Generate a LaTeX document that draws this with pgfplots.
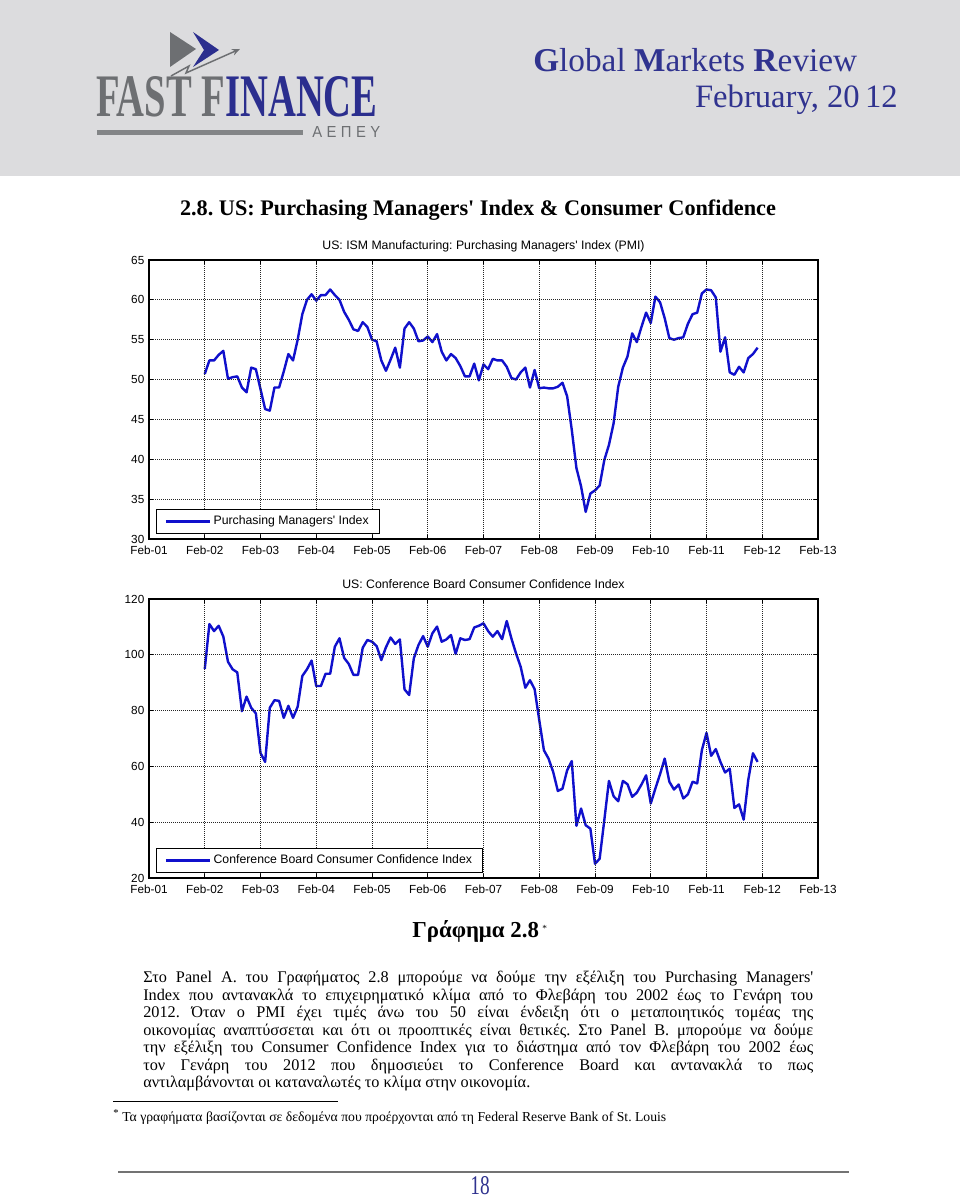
\documentclass[border=0pt]{standalone}
\usepackage{fontspec}
\setmainfont{Liberation Serif}
\setsansfont{Liberation Sans}
\usepackage{graphicx}
\usepackage{pgfplots}
\pgfplotsset{compat=1.18}
\usepackage{pgfplotstable}
\usetikzlibrary{arrows.meta}
\definecolor{hdrbg}{HTML}{DCDCDE}
\definecolor{logogray}{HTML}{6D6F72}
\definecolor{logoblue}{HTML}{2B2E8E}
\definecolor{hdrblue}{HTML}{30338F}
\definecolor{serblue}{HTML}{1010CC}

\pgfplotstableread{
m v
12 50.7
13 52.4
14 52.4
15 53.1
16 53.6
17 50.1
18 50.3
19 50.4
20 49.0
21 48.4
22 51.5
23 51.3
24 48.8
25 46.3
26 46.1
27 49.0
28 49.0
29 51.0
30 53.2
31 52.4
32 55.0
33 58.2
34 60.0
35 60.7
36 59.9
37 60.6
38 60.6
39 61.3
40 60.6
41 60.0
42 58.5
43 57.5
44 56.3
45 56.1
46 57.2
47 56.6
48 55.0
49 54.8
50 52.4
51 51.1
52 52.5
53 54.0
54 51.5
55 56.4
56 57.2
57 56.4
58 54.8
59 54.9
60 55.4
61 54.7
62 55.7
63 53.5
64 52.4
65 53.2
66 52.7
67 51.7
68 50.4
69 50.4
70 52.0
71 49.9
72 51.9
73 51.3
74 52.6
75 52.4
76 52.4
77 51.6
78 50.2
79 50.0
80 50.9
81 51.5
82 49.0
83 51.2
84 48.9
85 49.0
86 48.9
87 48.9
88 49.1
89 49.6
90 47.9
91 43.7
92 38.9
93 36.6
94 33.4
95 35.7
96 36.1
97 36.7
98 39.9
99 41.8
100 44.5
101 49.1
102 51.5
103 52.9
104 55.8
105 54.7
106 56.6
107 58.4
108 57.1
109 60.4
110 59.7
111 57.7
112 55.2
113 55.0
114 55.2
115 55.3
116 57.0
117 58.2
118 58.4
119 60.8
120 61.3
121 61.2
122 60.3
123 53.5
124 55.3
125 50.9
126 50.6
127 51.6
128 50.9
129 52.7
130 53.2
131 54.0
}\pmitable

\pgfplotstableread{
m v
12 94.9
13 111.0
14 108.5
15 110.4
16 106.5
17 97.5
18 94.8
19 93.7
20 79.8
21 85.0
22 81.0
23 79.0
24 64.8
25 61.6
26 81.0
27 83.7
28 83.5
29 77.4
30 81.7
31 77.4
32 81.4
33 92.4
34 94.8
35 97.9
36 88.8
37 88.8
38 93.2
39 93.2
40 102.9
41 105.9
42 98.9
43 96.7
44 92.8
45 92.8
46 102.5
47 105.3
48 104.7
49 103.1
50 98.1
51 102.7
52 106.2
53 103.9
54 105.5
55 87.6
56 85.6
57 98.7
58 103.5
59 106.7
60 102.9
61 107.7
62 110.1
63 104.7
64 105.5
65 107.1
66 100.3
67 105.9
68 105.3
69 105.6
70 109.8
71 110.4
72 111.3
73 108.5
74 106.5
75 108.5
76 105.6
77 112.1
78 105.9
79 100.5
80 95.7
81 88.2
82 90.9
83 87.7
84 76.6
85 65.8
86 62.8
87 58.0
88 51.2
89 52.0
90 58.6
91 61.9
92 38.7
93 44.9
94 38.9
95 37.7
96 25.1
97 26.9
98 40.7
99 54.8
100 49.3
101 47.5
102 54.8
103 53.6
104 49.1
105 50.6
106 53.5
107 56.8
108 46.7
109 52.1
110 57.2
111 62.8
112 54.5
113 51.7
114 53.5
115 48.5
116 50.0
117 54.5
118 53.9
119 65.8
120 72.0
121 63.8
122 66.2
123 61.6
124 57.8
125 59.2
126 45.1
127 46.4
128 40.9
129 55.3
130 64.7
131 61.6
}\ccitable

\pgfplotsset{
  myax/.style={
    scale only axis, width=501.75pt, height=209.25pt,
    xmin=0, xmax=144,
    xtick={0,12,...,144},
    xticklabels={Feb-01,Feb-02,Feb-03,Feb-04,Feb-05,Feb-06,Feb-07,Feb-08,Feb-09,Feb-10,Feb-11,Feb-12,Feb-13},
    grid=major,
    major grid style={black!85, line width=0.6pt, dash pattern=on 0.75pt off 0.75pt},
    axis line style={black, line width=0.9pt},
    tick align=inside, major tick length=3pt,
    tick style={black, line width=0.6pt},
    ticklabel style={font=\sffamily\fontsize{8.8}{10}\selectfont},
    xticklabel style={yshift=-1.5pt},
    /pgf/number format/assume math mode=true,
    title style={at={(0.5,1)}, anchor=base, yshift=1.5pt, font=\sffamily\fontsize{9.2}{10}\selectfont},
    legend style={at={(axis description cs:0.0105,0.018)}, anchor=south west,
      draw=black, line width=0.8pt, fill=white, inner xsep=6pt, inner ysep=3pt,
      font=\sffamily\fontsize{9.2}{10}\selectfont},
    legend cell align=left,
    legend image code/.code={\draw[#1, line width=1.8pt] (0pt,0pt) -- (33pt,0pt);},
    axis on top,
  }
}

\begin{document}
\frenchspacing
\begin{tikzpicture}[x=0.75pt,y=0.75pt]
\useasboundingbox (0,0) rectangle (960,1199);
\fill[white] (0,0) rectangle (960,1199);
% header band
\fill[hdrbg] (0,1023) rectangle (960,1199);
% logo
\fill[logogray] (170,1167) -- (196,1150) -- (170,1132) -- cycle;
\fill[logoblue] (193,1167) -- (219,1149) -- (193,1132) -- (204,1149) -- cycle;
\draw[logogray, line width=1.1pt, -{Stealth[length=6pt,width=5pt]}] (171,1123) -- (189,1133) -- (186,1126) -- (240,1150);
\node[anchor=south west, inner sep=0] at (96,1082) {\resizebox{211pt}{30pt}{\bfseries\color{logogray}FAST F\color{logoblue}INANCE}};
\fill[logogray!85] (97,1064) rectangle (303,1069);
\node[anchor=south west, inner sep=0, text=logogray] at (312,1061) {\resizebox{51pt}{8.25pt}{\sffamily Α\hspace{3pt}Ε\hspace{3pt}Π\hspace{3pt}Ε\hspace{3pt}Υ}};
% header texts
\node[anchor=base west, inner sep=0, text=hdrblue] at (533,1127) {\resizebox{243pt}{!}{\fontsize{25}{25}\selectfont\textbf{G}lobal \textbf{M}arkets \textbf{R}eview}};
\node[anchor=base east, inner sep=0, text=hdrblue] at (898,1091) {\resizebox{152pt}{!}{\fontsize{25}{25}\selectfont February, 20\,12}};
% section title
\node[anchor=base, inner sep=0] at (478,983) {\resizebox{447pt}{!}{\fontsize{15}{15}\selectfont\bfseries 2.8. US: Purchasing Managers\textquotesingle\ Index \& Consumer Confidence}};

% chart A
\begin{axis}[myax, at={(111.75pt,495pt)}, anchor=south west,
  ymin=30, ymax=65, ytick={30,35,...,65},
  title={US: ISM Manufacturing: Purchasing Managers\textquotesingle\ Index (PMI)}]
\addplot[serblue, line width=1.8pt, line join=round] table[x=m, y=v] {\pmitable};
\addlegendentry{Purchasing Managers\textquotesingle\ Index}
\end{axis}

% chart B
\begin{axis}[myax, at={(111.75pt,240.75pt)}, anchor=south west,
  ymin=20, ymax=120, ytick={20,40,...,120},
  title={US: Conference Board Consumer Confidence Index}]
\addplot[serblue, line width=1.8pt, line join=round] table[x=m, y=v] {\ccitable};
\addlegendentry{Conference Board Consumer Confidence Index}
\end{axis}

% caption
\node[anchor=base west, inner sep=0] at (412,261) {\resizebox{95pt}{!}{\fontsize{13}{13}\selectfont\bfseries Γράφημα 2.8}};
\node[anchor=base west, inner sep=0] at (542,267) {\fontsize{7}{7}\selectfont *};

% paragraph
\begin{scope}[every node/.style={anchor=base west, inner sep=0, font=\fontsize{12.2}{13}\selectfont}]
\node at (143,216) {\makebox[502.5pt][s]{Στο Panel A. του Γραφήματος 2.8 μπορούμε να δούμε την εξέλιξη του Purchasing Managers\textquotesingle}};
\node at (143,198.5) {\makebox[502.5pt][s]{Index που αντανακλά το επιχειρηματικό κλίμα από το Φλεβάρη του 2002 έως το Γενάρη του}};
\node at (143,181) {\makebox[502.5pt][s]{2012. Όταν ο PMI έχει τιμές άνω του 50 είναι ένδειξη ότι ο μεταποιητικός τομέας της}};
\node at (143,163.5) {\makebox[502.5pt][s]{οικονομίας αναπτύσσεται και ότι οι προοπτικές είναι θετικές. Στο Panel B. μπορούμε να δούμε}};
\node at (143,146) {\makebox[502.5pt][s]{την εξέλιξη του Consumer Confidence Index για το διάστημα από τον Φλεβάρη του 2002 έως}};
\node at (143,128.5) {\makebox[502.5pt][s]{τον Γενάρη του 2012 που δημοσιεύει το Conference Board και αντανακλά το πως}};
\node at (143,111) {αντιλαμβάνονται οι καταναλωτές το κλίμα στην οικονομία.};
\end{scope}

% footnote
\draw[black, line width=0.8pt] (113,97.5) -- (338,97.5);
\node[anchor=base west, inner sep=0] at (113,82) {\fontsize{8}{8}\selectfont *};
\node[anchor=base west, inner sep=0] at (122,77) {\resizebox{408pt}{!}{\fontsize{10}{10}\selectfont Τα γραφήματα βασίζονται σε δεδομένα που προέρχονται από τη Federal Reserve Bank of St. Louis}};

% bottom rule and page number
\draw[black!55, line width=1.4pt] (118,27) -- (849,27);
\node[anchor=base, inner sep=0, text=hdrblue] at (480,4) {\resizebox{14.5pt}{13.5pt}{18}};
\end{tikzpicture}
\end{document}
